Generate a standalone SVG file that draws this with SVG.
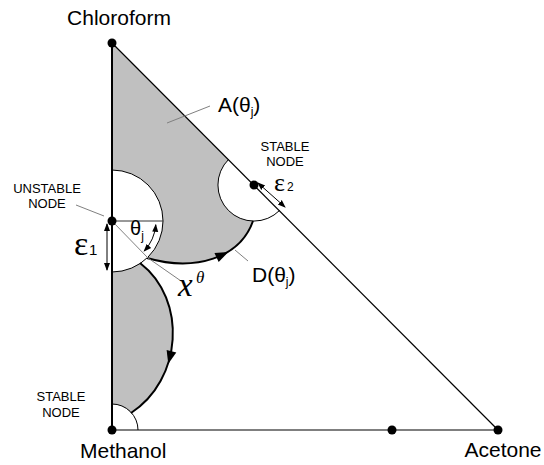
<svg xmlns="http://www.w3.org/2000/svg" width="544" height="465" viewBox="0 0 544 465">
<style>
text{font-family:"Liberation Sans",Arial,sans-serif;fill:#000}
.big{font-size:21px}
.small{font-size:13px}
.sub{font-size:12px}
.eps{font-family:"Liberation Serif","Times New Roman",serif}
.gray{fill:#c0c0c0;stroke:none}
.thin{fill:none;stroke:#000;stroke-width:1}
.flow{fill:none;stroke:#000;stroke-width:2}
.lead{fill:none;stroke:#808080;stroke-width:1}
.dot{fill:#000}
</style>
<defs>
<marker id="ah" markerUnits="userSpaceOnUse" markerWidth="8" markerHeight="8" viewBox="0 0 8 8" refX="7" refY="4" orient="auto-start-reverse">
<path d="M0,1 L8,4 L0,7 Z" fill="#000"/>
</marker>
</defs>

<g id="regions">
<path class="gray" d="M112,43 L228.5,159.5 A36,36 0 0 0 253,221 C240,258 195,272 147,258 A51,51 0 0 0 112,170 Z"/>
<path class="gray" d="M112,272 A51,51 0 0 0 140,263 C188,300 182,380 131,413 A26,26 0 0 0 112,404 Z"/>
</g>

<g id="connectors">
<line x1="112" y1="43" x2="112" y2="430" stroke="#000" stroke-width="2"/>
<line x1="112" y1="43" x2="498" y2="430" stroke="#000" stroke-width="1.2"/>
<line x1="112" y1="430" x2="498" y2="430" stroke="#000" stroke-width="1.2"/>
<path class="thin" d="M228.5,159.5 A36,36 0 0 0 279.5,210.5"/>
<path class="thin" d="M112,170 A51,51 0 0 1 112,272"/>
<path class="thin" d="M112,404 A26,26 0 0 1 138,430"/>
<path class="flow" d="M253,221 C240,258 195,272 147,258"/>
<path class="flow" d="M140,263 C188,300 182,380 131,413"/>
<polygon points="7,0 -6,-5 -6,5" fill="#000" transform="translate(222,255) rotate(-25)"/>
<polygon points="7,0 -6,-5 -6,5" fill="#000" transform="translate(170,357) rotate(104)"/>
<line x1="112" y1="221" x2="163" y2="221" stroke="#333" stroke-width="1"/>
<polyline class="lead" points="112,221 148,258 181,281"/>
<path d="M155.8,224.8 A44,44 0 0 1 144.2,251" fill="none" stroke="#000" stroke-width="1" marker-start="url(#ah)" marker-end="url(#ah)"/>
<line x1="107" y1="224" x2="107" y2="270" stroke="#000" stroke-width="1" marker-start="url(#ah)" marker-end="url(#ah)"/>
<line x1="258" y1="183" x2="285" y2="207" stroke="#000" stroke-width="1" marker-start="url(#ah)" marker-end="url(#ah)"/>
<line class="lead" x1="167" y1="123" x2="210" y2="106"/>
<line class="lead" x1="235" y1="250" x2="248" y2="261"/>
<line class="lead" x1="76" y1="205" x2="104" y2="216"/>
</g>

<g id="chloroform">
<circle class="dot" cx="112" cy="43" r="4.5"/>
<text class="big" x="119" y="25" text-anchor="middle" font-size="22">Chloroform</text>
</g>
<g id="methanol">
<circle class="dot" cx="112" cy="430" r="4.5"/>
<text class="big" x="80" y="458">Methanol</text>
</g>
<g id="acetone">
<circle class="dot" cx="498" cy="430" r="4.5"/>
<text class="big" x="503" y="457" text-anchor="middle">Acetone</text>
</g>
<g id="base-point">
<circle class="dot" cx="392" cy="430" r="4.5"/>
</g>
<g id="unstable-node">
<circle class="dot" cx="112" cy="221" r="4.5"/>
<text class="small" x="47" y="193" text-anchor="middle">UNSTABLE</text>
<text class="small" x="47" y="208" text-anchor="middle">NODE</text>
</g>
<g id="stable-node-1">
<circle class="dot" cx="254" cy="185" r="4.5"/>
<text class="small" x="285" y="151" text-anchor="middle">STABLE</text>
<text class="small" x="285" y="166" text-anchor="middle">NODE</text>
</g>
<g id="stable-node-2">
<text class="small" x="61" y="401" text-anchor="middle">STABLE</text>
<text class="small" x="61" y="417" text-anchor="middle">NODE</text>
</g>
<g id="label-A">
<text class="big" x="218" y="112">A(θ<tspan class="sub" dy="4">j</tspan><tspan dy="-4">)</tspan></text>
</g>
<g id="label-D">
<text class="big" x="252" y="282">D(θ<tspan class="sub" dy="4">j</tspan><tspan dy="-4">)</tspan></text>
</g>
<g id="label-theta">
<text x="130" y="235" font-size="20">θ<tspan class="sub" dy="5">j</tspan></text>
</g>
<g id="label-x">
<text class="eps" x="178" y="296" font-size="33" font-style="italic">x</text>
<text class="eps" x="196" y="283" font-size="17" font-style="italic">θ</text>
</g>
<g id="label-eps1">
<text class="eps" x="74" y="255" font-size="34">ε</text>
<text x="89" y="255" font-size="15">1</text>
</g>
<g id="label-eps2">
<text class="eps" x="274" y="191" font-size="26">ε</text>
<text x="287" y="191" font-size="12">2</text>
</g>
</svg>
